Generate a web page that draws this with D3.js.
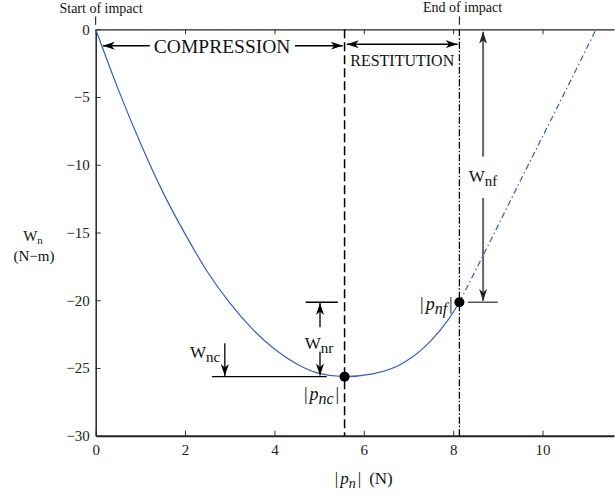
<!DOCTYPE html>
<html>
<head>
<meta charset="utf-8">
<script src="https://cdn.jsdelivr.net/npm/d3@7"></script>
<style>
  body { margin: 0; background: #fff; }
  svg { font-family: "Liberation Serif", "Times New Roman", serif; }
</style>
</head>
<body>
<svg id="chart" width="615" height="500"></svg>
<script>
// values
const xTicks = [0, 2, 4, 6, 8, 10];
const yTicks = [0, -5, -10, -15, -20, -25, -30];

// solid part of the curve (during impact)
const impulse = [0, 0.5, 1, 1.5, 2, 2.5, 3, 3.5, 4, 4.5, 5, 5.57, 6.2, 6.9, 7.5, 7.9, 8.14];
const work    = [0, -4.4, -8.4, -12.0, -15.1, -17.9, -20.2, -22.1, -23.6, -24.7, -25.4, -25.64, -25.44, -24.6, -23.0, -21.4, -20.15];

// dash-dot continuation after end of impact
const impulseExt = [8.14, 8.7, 9.5, 10.4, 11.2];
const workExt    = [-20.15, -16.5, -11.2, -5.3, 0];

const pnc = 5.57, wnc = -25.64;   // max compression
const pnf = 8.14, wnf = -20.15;   // end of impact

const svg = d3.select("#chart");
const x = d3.scaleLinear().domain([0, 11.6]).range([95.7, 614]);
const y = d3.scaleLinear().domain([-30, 0]).range([435.7, 29.3]);

// arrow heads
const defs = svg.append("defs");
function marker(id, color) {
    defs.append("marker")
        .attr("id", id)
        .attr("viewBox", "0 -5 13 10")
        .attr("refX", 12).attr("refY", 0)
        .attr("markerUnits", "userSpaceOnUse")
        .attr("markerWidth", 13).attr("markerHeight", 10)
        .attr("orient", "auto-start-reverse")
        .append("path")
        .attr("d", "M0,-4L12,0L0,4L3.5,0Z")
        .attr("fill", color);
}
marker("arr", "#000");
marker("arrG", "#222");

// axes, ticks pointing inward
const gx = svg.append("g").attr("transform", `translate(0,${y(-30)})`)
    .call(d3.axisBottom(x).tickValues(xTicks).tickSizeInner(-5).tickSizeOuter(0).tickPadding(9));
const gxt = svg.append("g").attr("transform", `translate(0,${y(0)})`)
    .call(d3.axisTop(x).tickValues(xTicks).tickSizeInner(-5).tickSizeOuter(0).tickFormat(""));
const gy = svg.append("g").attr("transform", `translate(${x(0)},0)`)
    .call(d3.axisLeft(y).tickValues(yTicks).tickSizeInner(-5).tickSizeOuter(0).tickPadding(6));

[gx, gxt, gy].forEach(g => {
    g.selectAll("text").attr("font-family", "Liberation Serif").attr("font-size", 15).attr("fill", "#222");
    g.selectAll("line").attr("stroke", "#333");
    g.select(".domain").attr("stroke", "#222");
});
gx.select(".domain").attr("stroke-width", 2);
gy.select(".domain").attr("stroke-width", 1.5);
gxt.select(".domain").attr("stroke-width", 1.2);

// vertical reference lines
svg.append("line")
    .attr("x1", x(pnc)).attr("x2", x(pnc)).attr("y1", y(0)).attr("y2", y(-30))
    .attr("stroke", "#000").attr("stroke-width", 1.5).attr("stroke-dasharray", "9,4");
svg.append("line")
    .attr("x1", x(pnf)).attr("x2", x(pnf)).attr("y1", y(0)).attr("y2", y(-30))
    .attr("stroke", "#000").attr("stroke-width", 1.3).attr("stroke-dasharray", "7,2,1.5,2");

// the curve
const line = d3.line().x(d => x(d[0])).y(d => y(d[1])).curve(d3.curveMonotoneX);
svg.append("path")
    .datum(d3.zip(impulse, work))
    .attr("d", line)
    .attr("fill", "none").attr("stroke", "#3a5cc0").attr("stroke-width", 1.2);
svg.append("path")
    .datum(d3.zip(impulseExt, workExt))
    .attr("d", line)
    .attr("fill", "none").attr("stroke", "#3a5cc0").attr("stroke-width", 1.2)
    .attr("stroke-dasharray", "6,3,1.5,3");

// dots
svg.selectAll("circle.pt").data([[pnc, wnc], [pnf, wnf]]).join("circle")
    .attr("class", "pt")
    .attr("cx", d => x(d[0])).attr("cy", d => y(d[1])).attr("r", 5)
    .attr("fill", "#000");

// helpers
function seg(p1, w1, p2, w2, opts = {}) {
    const l = svg.append("line")
        .attr("x1", x(p1)).attr("y1", y(w1)).attr("x2", x(p2)).attr("y2", y(w2))
        .attr("stroke", opts.color || "#000").attr("stroke-width", opts.width || 1.3);
    if (opts.end) l.attr("marker-end", `url(#${opts.end})`);
    if (opts.start) l.attr("marker-start", `url(#${opts.start})`);
    return l;
}
function label(p, w, anchor, size) {
    return svg.append("text").attr("x", x(p)).attr("y", y(w))
        .attr("text-anchor", anchor).attr("font-size", size).attr("fill", "#111");
}
function subLabel(p, w, main, sub, anchor) {
    const t = label(p, w, anchor, 17);
    t.append("tspan").text(main);
    t.append("tspan").attr("font-size", 15).attr("dy", 4).text(sub);
    return t;
}
function absLabel(p, w, sub, anchor, size, subSize) {
    const t = label(p, w, anchor, size);
    t.append("tspan").text("|");
    t.append("tspan").attr("dx", 2).attr("font-style", "italic").text("p");
    t.append("tspan").attr("font-style", "italic").attr("font-size", subSize).attr("dy", 4).text(sub);
    t.append("tspan").attr("dx", 2).attr("dy", -4).text("|");
    return t;
}

// COMPRESSION / RESTITUTION
seg(1.21, -1.21, 0.16, -1.21, { end: "arr", width: 1.5 });
seg(4.46, -1.21, 5.53, -1.21, { end: "arr", width: 1.5 });
label(2.83, -1.75, "middle", 19.5).text("COMPRESSION");
seg(5.62, -1.1, 8.1, -1.1, { start: "arr", end: "arr", width: 1.5 });
label(6.86, -2.72, "middle", 16).text("RESTITUTION");

// start / end of impact
label(0.12, 1.23, "middle", 14).text("Start of impact");
seg(0, 0.33, 0, 0.95, { width: 1 });
label(8.21, 1.3, "middle", 14).text("End of impact");
seg(pnf, 0.33, pnf, 0.95, { width: 1 });

// W_nf
seg(8.67, -9.4, 8.67, -0.18, { end: "arrG", color: "#666", width: 2 });
seg(8.67, -12.45, 8.67, -20.05, { end: "arrG", color: "#666", width: 2 });
seg(8.33, wnf, 9.0, wnf, { color: "#555", width: 1.5 });
subLabel(8.35, -11.3, "W", "nf", "start");

// W_nr
seg(4.7, wnf, 5.42, wnf, { width: 1.3 });
seg(5.02, -22.0, 5.02, -20.2, { end: "arr" });
subLabel(4.68, -23.6, "W", "nr", "start");
seg(5.02, -23.8, 5.02, -25.55, { end: "arr" });

// W_nc
seg(2.6, wnc, 5.17, wnc, { width: 1.3 });
seg(2.89, -23.17, 2.89, -25.6, { end: "arr" });
subLabel(2.11, -24.3, "W", "nc", "start");

// impulse labels
absLabel(5.45, -27.4, "nc", "end", 18, 16);
absLabel(7.99, -20.75, "nf", "end", 18, 16);

// axis titles
const xl = absLabel(6.0, -33.55, "n", "middle", 17, 14);
xl.append("tspan").attr("dx", 8).text("(N)");

const yl = svg.append("text").attr("x", 33).attr("y", 241).attr("text-anchor", "middle")
    .attr("font-size", 15).attr("fill", "#111");
yl.append("tspan").text("W");
yl.append("tspan").attr("font-size", 11).attr("dy", 3).text("n");
svg.append("text").attr("x", 34).attr("y", 261).attr("text-anchor", "middle")
    .attr("font-size", 15).attr("fill", "#111").text("(N\u2212m)");
</script>
</body>
</html>
